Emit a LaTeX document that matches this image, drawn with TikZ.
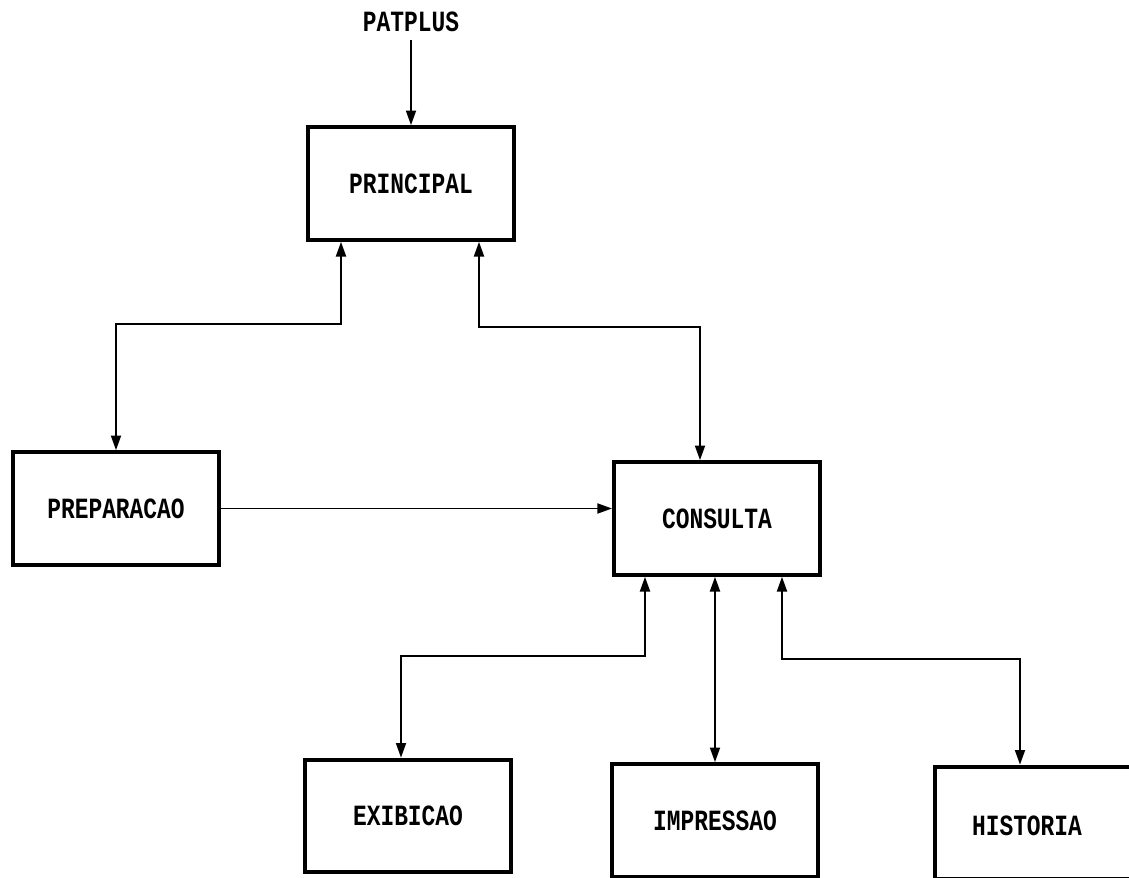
\documentclass[tikz,border=0pt]{standalone}
\usepackage{fontspec}
\newfontfamily\dotfont{Liberation Mono}[FakeStretch=0.78]
\usetikzlibrary{arrows.meta,calc}

\tikzset{every picture/.style={line width=0.75pt}}
\tikzset{
  modbox/.style={draw,line width=3pt,minimum width=154.5pt,minimum height=84.5pt,
    inner sep=0pt,font=\dotfont\bfseries\fontsize{22}{22}\selectfont},
  lbl/.style={inner sep=0pt,font=\dotfont\bfseries\fontsize{22}{22}\selectfont},
  onearr/.style={line width=1.4pt,-{Triangle[length=11pt,width=7.5pt]}},
  twoarr/.style={line width=1.4pt,{Triangle[length=11pt,width=7.5pt]}-{Triangle[length=11pt,width=7.5pt]}}
}

\begin{document}
\begin{tikzpicture}[x=0.75pt,y=0.75pt,yscale=-1,xscale=1]
%set diagram size to the scanned page
\useasboundingbox (0,0) rectangle (1129,878);
\clip (0,0) rectangle (1129,878);

% Text Node
\node [lbl] (patplus) at (411,22) {PATPLUS};
% Boxes
\node [modbox] (principal) at (411,183.5) {PRINCIPAL};
\node [modbox] (preparacao) at (116,508.5) {PREPARACAO};
\node [modbox] (consulta) at (717,518.5) {CONSULTA};
\node [modbox] (exibicao) at (408,816) {EXIBICAO};
\node [modbox] (impressao) at (715,820.5) {IMPRESSAO};
\node [modbox] (historia) at (1038,823) {};
\node [lbl] (historiatxt) at (1027,826) {HISTORIA};

%Straight Lines
\draw [onearr] (patplus.south) ++(0,8) -- (principal.north);
\draw [onearr] (preparacao.east) -- (preparacao.east -| consulta.west);
\draw [twoarr] (consulta.south -| impressao.north) -- (impressao.north);

%Bent Lines
\draw [twoarr] ($(principal.south west)+(35,0)$) -- ++(0,82) -| (preparacao.north);
\draw [twoarr] ($(principal.south west)+(173,0)$) -- ++(0,85) -| ($(consulta.north west)+(88,0)$);
\draw [twoarr] ($(consulta.south west)+(33,0)$) -- ++(0,79) -| ($(exibicao.north west)+(98,0)$);
\draw [twoarr] ($(consulta.south west)+(170,0)$) -- ++(0,82) -| ($(historia.north west)+(87,0)$);

\end{tikzpicture}
\end{document}
